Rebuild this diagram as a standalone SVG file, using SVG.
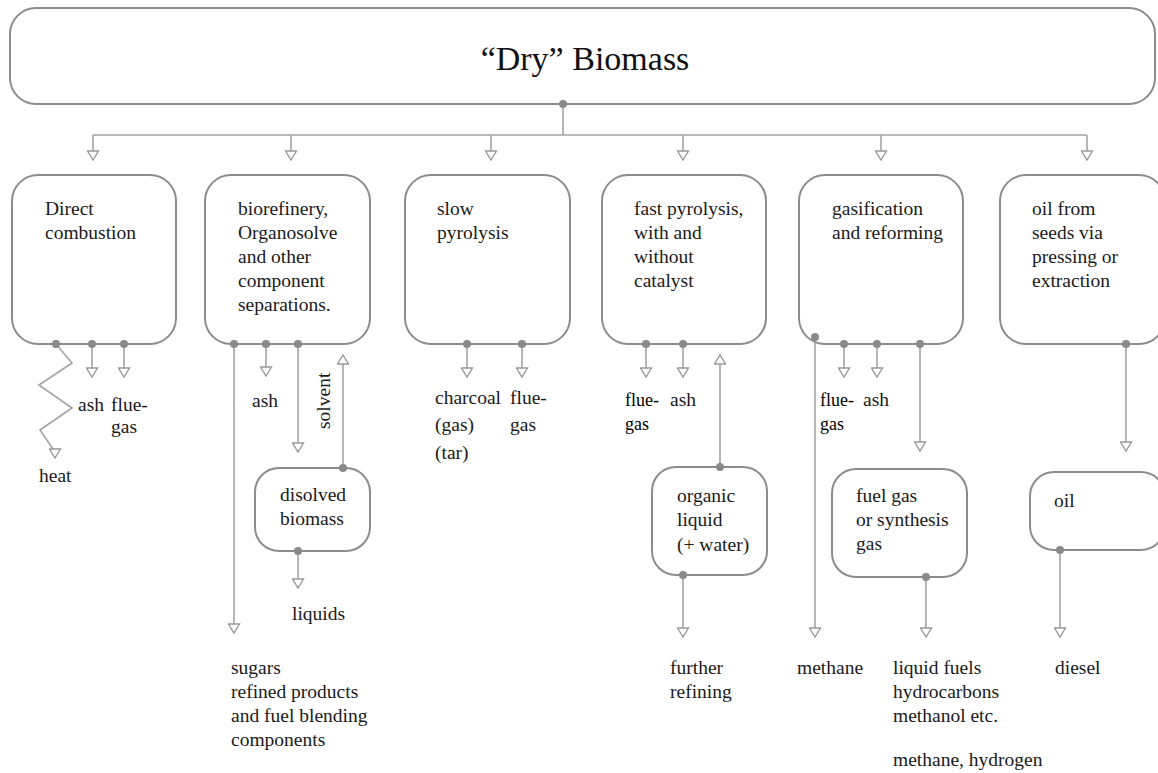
<svg xmlns="http://www.w3.org/2000/svg" width="1158" height="773" viewBox="0 0 1158 773">
<defs>
<style>
.box{fill:#fff;stroke:#8c8c8c;stroke-width:2}
.ln{fill:none;stroke:#a3a3a3;stroke-width:1.6}
.dot{fill:#8a8a8a}
.t{font-family:"Liberation Serif","Times New Roman",serif;font-size:19.5px;fill:#1a1a1a}
.tt{font-family:"Liberation Serif","Times New Roman",serif;font-size:18px;fill:#000}
.title{font-family:"Liberation Serif","Times New Roman",serif;font-size:34px;fill:#111}
</style>
<marker id="ah" viewBox="0 0 11 13" refX="10" refY="6.5" markerWidth="11" markerHeight="13" markerUnits="userSpaceOnUse" orient="auto">
<path d="M1,1 L10,6.5 L1,12 Z" fill="#fff" stroke="#999" stroke-width="1.4"/>
</marker>
</defs>
<rect width="1158" height="773" fill="#fff"/>

<g id="connectors">
<path class="ln" d="M563,104 V135 M93,135 H1087"/>
<path class="ln" d="M93,135 V160" marker-end="url(#ah)"/>
<path class="ln" d="M291,135 V160" marker-end="url(#ah)"/>
<path class="ln" d="M491,135 V160" marker-end="url(#ah)"/>
<path class="ln" d="M683,135 V160" marker-end="url(#ah)"/>
<path class="ln" d="M881,135 V160" marker-end="url(#ah)"/>
<path class="ln" d="M1087,135 V160" marker-end="url(#ah)"/>
<!-- direct combustion -->
<path class="ln" d="M56,344 L72,363 L39,385 L72,408 L40,430 L55,452 V458" marker-end="url(#ah)"/>
<path class="ln" d="M92,344 V377" marker-end="url(#ah)"/>
<path class="ln" d="M124,344 V377" marker-end="url(#ah)"/>
<!-- biorefinery -->
<path class="ln" d="M234,344 V633" marker-end="url(#ah)"/>
<path class="ln" d="M266,344 V376" marker-end="url(#ah)"/>
<path class="ln" d="M298,344 V452" marker-end="url(#ah)"/>
<path class="ln" d="M343,468 V355" marker-end="url(#ah)"/>
<path class="ln" d="M298,551 V588" marker-end="url(#ah)"/>
<!-- slow pyrolysis -->
<path class="ln" d="M467,344 V377" marker-end="url(#ah)"/>
<path class="ln" d="M522,344 V377" marker-end="url(#ah)"/>
<!-- fast pyrolysis -->
<path class="ln" d="M646,344 V377" marker-end="url(#ah)"/>
<path class="ln" d="M683,344 V377" marker-end="url(#ah)"/>
<path class="ln" d="M720,467 V355" marker-end="url(#ah)"/>
<path class="ln" d="M683,575 V637" marker-end="url(#ah)"/>
<!-- gasification -->
<path class="ln" d="M815,337 V637" marker-end="url(#ah)"/>
<path class="ln" d="M844,344 V377" marker-end="url(#ah)"/>
<path class="ln" d="M877,344 V377" marker-end="url(#ah)"/>
<path class="ln" d="M920,344 V451" marker-end="url(#ah)"/>
<path class="ln" d="M926,577 V637" marker-end="url(#ah)"/>
<!-- oil -->
<path class="ln" d="M1126,344 V451" marker-end="url(#ah)"/>
<path class="ln" d="M1060,550 V637" marker-end="url(#ah)"/>
</g>

<g id="n-dry-biomass">
<rect class="box" x="10" y="8" width="1145" height="96" rx="26"/>
<text class="title" x="585" y="70" text-anchor="middle">“Dry” Biomass</text>
<circle class="dot" cx="563" cy="104" r="4"/>
</g>

<g id="n-direct-combustion">
<rect class="box" x="12" y="175" width="164" height="169" rx="26"/>
<text class="t" x="45" y="215">Direct</text>
<text class="t" x="45" y="239">combustion</text>
<circle class="dot" cx="56" cy="344" r="4"/>
<circle class="dot" cx="92" cy="344" r="4"/>
<circle class="dot" cx="124" cy="344" r="4"/>
</g>

<g id="n-biorefinery">
<rect class="box" x="205" y="175" width="165" height="169" rx="26"/>
<text class="t" x="238" y="215">biorefinery,</text>
<text class="t" x="238" y="239">Organosolve</text>
<text class="t" x="238" y="263">and other</text>
<text class="t" x="238" y="287">component</text>
<text class="t" x="238" y="311">separations.</text>
<circle class="dot" cx="234" cy="344" r="4"/>
<circle class="dot" cx="266" cy="344" r="4"/>
<circle class="dot" cx="298" cy="344" r="4"/>
</g>

<g id="n-slow-pyrolysis">
<rect class="box" x="405" y="175" width="165" height="169" rx="26"/>
<text class="t" x="437" y="215">slow</text>
<text class="t" x="437" y="239">pyrolysis</text>
<circle class="dot" cx="467" cy="344" r="4"/>
<circle class="dot" cx="522" cy="344" r="4"/>
</g>

<g id="n-fast-pyrolysis">
<rect class="box" x="602" y="175" width="164" height="169" rx="26"/>
<text class="t" x="634" y="215">fast pyrolysis,</text>
<text class="t" x="634" y="239">with and</text>
<text class="t" x="634" y="263">without</text>
<text class="t" x="634" y="287">catalyst</text>
<circle class="dot" cx="646" cy="344" r="4"/>
<circle class="dot" cx="683" cy="344" r="4"/>
</g>

<g id="n-gasification">
<rect class="box" x="799" y="175" width="164" height="169" rx="26"/>
<text class="t" x="832" y="215">gasification</text>
<text class="t" x="832" y="239">and reforming</text>
<circle class="dot" cx="815" cy="337" r="4"/>
<circle class="dot" cx="844" cy="344" r="4"/>
<circle class="dot" cx="877" cy="344" r="4"/>
<circle class="dot" cx="920" cy="344" r="4"/>
</g>

<g id="n-oil-seeds">
<rect class="box" x="1000" y="175" width="165" height="169" rx="26"/>
<text class="t" x="1032" y="215">oil from</text>
<text class="t" x="1032" y="239">seeds via</text>
<text class="t" x="1032" y="263">pressing or</text>
<text class="t" x="1032" y="287">extraction</text>
<circle class="dot" cx="1126" cy="344" r="4"/>
</g>

<g id="n-disolved-biomass">
<rect class="box" x="255" y="468" width="115" height="83" rx="24"/>
<text class="t" x="280" y="501">disolved</text>
<text class="t" x="280" y="525">biomass</text>
<circle class="dot" cx="343" cy="468" r="4"/>
<circle class="dot" cx="298" cy="551" r="4"/>
</g>

<g id="n-organic-liquid">
<rect class="box" x="652" y="467" width="115" height="108" rx="24"/>
<text class="t" x="677" y="502">organic</text>
<text class="t" x="677" y="526">liquid</text>
<text class="t" x="677" y="551">(+ water)</text>
<circle class="dot" cx="720" cy="467" r="4"/>
<circle class="dot" cx="683" cy="575" r="4"/>
</g>

<g id="n-fuel-gas">
<rect class="box" x="832" y="469" width="135" height="108" rx="24"/>
<text class="t" x="856" y="502">fuel gas</text>
<text class="t" x="856" y="526">or synthesis</text>
<text class="t" x="856" y="550">gas</text>
<circle class="dot" cx="926" cy="577" r="4"/>
</g>

<g id="n-oil">
<rect class="box" x="1030" y="472" width="135" height="78" rx="24"/>
<text class="t" x="1054" y="507">oil</text>
<circle class="dot" cx="1060" cy="550" r="4"/>
</g>

<g id="labels">
<text class="t" x="78" y="411">ash</text>
<text class="t" x="111" y="411">flue-</text>
<text class="t" x="111" y="433">gas</text>
<text class="t" x="39" y="482">heat</text>
<text class="t" x="252" y="407">ash</text>
<text class="t" transform="translate(330,429) rotate(-90)">solvent</text>
<text class="t" x="292" y="620">liquids</text>
<text class="t" x="231" y="674">sugars</text>
<text class="t" x="231" y="698">refined products</text>
<text class="t" x="231" y="722">and fuel blending</text>
<text class="t" x="231" y="746">components</text>
<text class="t" x="435" y="404">charcoal</text>
<text class="t" x="435" y="431">(gas)</text>
<text class="t" x="435" y="459">(tar)</text>
<text class="t" x="510" y="404">flue-</text>
<text class="t" x="510" y="431">gas</text>
<text class="tt" x="625" y="406">flue-</text>
<text class="tt" x="625" y="430">gas</text>
<text class="t" x="670" y="406">ash</text>
<text class="t" x="670" y="674">further</text>
<text class="t" x="670" y="698">refining</text>
<text class="tt" x="820" y="406">flue-</text>
<text class="tt" x="820" y="430">gas</text>
<text class="t" x="863" y="406">ash</text>
<text class="t" x="797" y="674">methane</text>
<text class="t" x="893" y="674">liquid fuels</text>
<text class="t" x="893" y="698">hydrocarbons</text>
<text class="t" x="893" y="722">methanol etc.</text>
<text class="t" x="893" y="766">methane, hydrogen</text>
<text class="t" x="1055" y="674">diesel</text>
</g>
</svg>
